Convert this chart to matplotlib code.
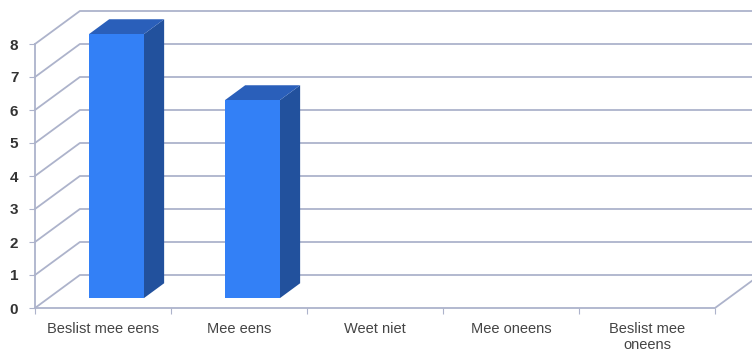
import numpy as np
import matplotlib.pyplot as plt
from matplotlib.patches import Polygon

categories = ['Beslist mee eens', 'Mee eens', 'Weet niet', 'Mee oneens', 'Beslist mee\noneens']
counts = [8, 6, 0, 0, 0]
yticks = [0, 1, 2, 3, 4, 5, 6, 7, 8]

plt.rcParams['font.family'] = ['Liberation Sans', 'DejaVu Sans']

# pseudo 3D: full depth shift in data units
DX = 0.33   # categories
DY = 1.0    # values
grid_col = '#adb3cb'
front_col = '#3380f6'
side_col = '#22519d'
top_col = '#2a5fba'

fig = plt.figure(figsize=(7.52, 3.52), dpi=100)
ax = fig.add_axes([35 / 752, 44 / 352, 680 / 752, 264 / 352])
ax.set_xlim(-0.5, 4.5)
ax.set_ylim(0, 8)

x = np.arange(len(categories))

# walls and gridlines
for v in yticks:
    ax.plot([-0.5, -0.5 + DX, 6], [v, v + DY, v + DY], color=grid_col, lw=1.3,
            clip_on=False, zorder=1)
ax.plot([-0.5, 4.5, 4.5 + DX * 1.2], [0, 0, DY * 1.2], color=grid_col, lw=1.3,
        clip_on=False, zorder=1)
ax.plot([-0.5, -0.5], [0, 8], color=grid_col, lw=1.3, clip_on=False, zorder=1)

# bars
d = 0.3      # gap in front of bar
t = 0.45     # bar depth
w = 0.404
bx = x + d * DX
ax.bar(bx, counts, width=w, bottom=d * DY, color=front_col, zorder=3, clip_on=False)
for xi, v in zip(bx, counts):
    if v <= 0:
        continue
    r = xi + w / 2
    l = xi - w / 2
    top = d * DY + v
    side = Polygon([(r, d * DY), (r, top), (r + t * DX, top + t * DY), (r + t * DX, d * DY + t * DY)],
                   closed=True, facecolor=side_col, edgecolor='none', zorder=2, clip_on=False)
    cap = Polygon([(l, top), (r, top), (r + t * DX, top + t * DY), (l + t * DX, top + t * DY)],
                  closed=True, facecolor=top_col, edgecolor='none', zorder=2, clip_on=False)
    ax.add_patch(side)
    ax.add_patch(cap)

for s in ax.spines.values():
    s.set_visible(False)

ax.set_yticks(yticks)
ax.set_yticklabels([str(v) for v in yticks], fontsize=11, fontweight='bold', color='#333333')
ax.tick_params(axis='y', length=4, color=grid_col, pad=8)

ax.set_xticks(np.arange(-0.5, 5, 1), minor=False)
ax.set_xticklabels([])
ax.set_xticks(x, minor=True)
ax.set_xticklabels(categories, minor=True, fontsize=10.5, color='#444444',
                   linespacing=1.2)
ax.tick_params(axis='x', which='major', length=4, color=grid_col)
ax.tick_params(axis='x', which='minor', length=0, pad=10)

fig.savefig('out.png', dpi=100)
